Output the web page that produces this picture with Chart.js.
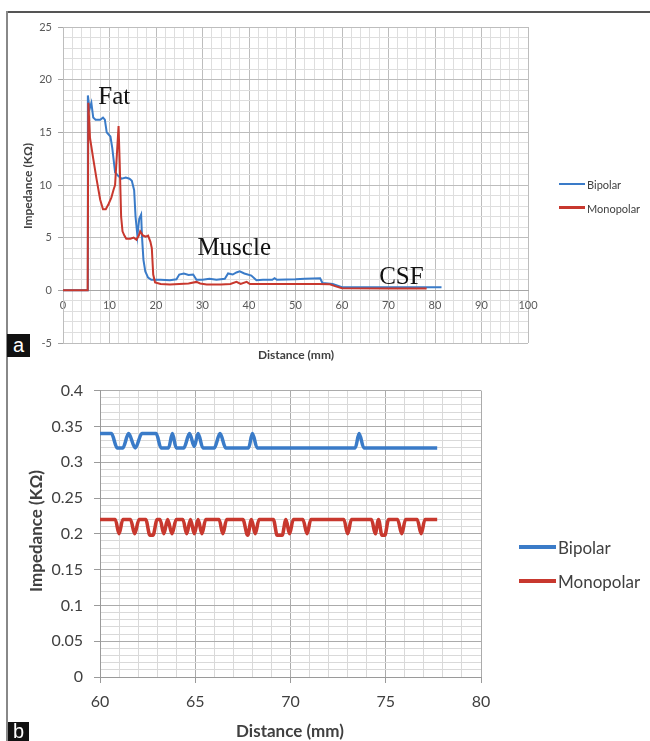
<!DOCTYPE html>
<html><head><meta charset="utf-8">
<script src="https://cdn.jsdelivr.net/npm/chart.js@4.4.0/dist/chart.umd.min.js"></script>
<style>
html,body{margin:0;padding:0;background:#fff;}
body{width:650px;height:741px;position:relative;overflow:hidden;font-family:Lato,sans-serif;}
canvas{position:absolute;left:0;}
#ca{top:0;} #cb{top:370px;}
.t{position:absolute;white-space:nowrap;color:#404040;font-weight:bold;line-height:1;}
.rot{transform:translate(-50%,-50%) rotate(-90deg);}
.ctr{transform:translate(-50%,-50%);}
.lg{position:absolute;white-space:nowrap;color:#404040;line-height:1;transform:translateY(-50%);}
.ln{position:absolute;}
.box{position:absolute;background:#111;color:#fff;font-family:"Liberation Sans",sans-serif;text-align:center;}
</style></head>
<body>
<div style="position:absolute;left:7px;top:11px;width:643px;height:1.5px;background:#555;"></div>
<div style="position:absolute;left:6px;top:11px;width:2px;height:730px;background:#888;"></div>
<canvas id="ca" width="650" height="370"></canvas>
<canvas id="cb" width="650" height="371"></canvas>

<div class="t rot" style="left:28px;top:186px;font-size:12px;">Impedance (KΩ)</div>
<div class="t ctr" style="left:296px;top:355px;font-size:12px;">Distance (mm)</div>
<div class="ln" style="left:559px;top:182.5px;width:26px;height:2.5px;background:#3a7bc8;"></div>
<div class="lg" style="left:587px;top:184px;font-size:11px;">Bipolar</div>
<div class="ln" style="left:559px;top:206px;width:26px;height:2.5px;background:#c8382e;"></div>
<div class="lg" style="left:587px;top:207.5px;font-size:11px;">Monopolar</div>
<div class="box" style="left:7px;top:334px;width:23px;height:23px;font-size:20px;line-height:22px;">a</div>

<div class="t rot" style="left:35px;top:531px;font-size:17px;">Impedance (KΩ)</div>
<div class="t ctr" style="left:290px;top:730px;font-size:17px;">Distance (mm)</div>
<div class="ln" style="left:519px;top:545px;width:37px;height:4px;background:#3a7bc8;"></div>
<div class="lg" style="left:558px;top:547px;font-size:17px;">Bipolar</div>
<div class="ln" style="left:519px;top:579px;width:37px;height:4px;background:#c8382e;"></div>
<div class="lg" style="left:558px;top:581px;font-size:17px;">Monopolar</div>
<div class="box" style="left:8px;top:722px;width:21px;height:19px;font-size:20px;line-height:19px;">b</div>

<script>
// ---------- Panel a data ----------
const distA_bipolar = [0,5.2,5.35,5.7,6.1,6.5,7,8,8.6,9,9.4,10.2,10.6,11.2,11.8,12.6,13.5,14.3,14.8,15.3,15.6,16.0,16.4,16.8,17.0,17.3,17.7,18.3,19,21,23,24.4,25,26,27,28,28.7,30,31.5,33,34.8,35.5,36.5,37.3,38,39,40.5,41.6,43,45,45.5,46,50,52,55.3,55.8,58,60,81.4];
const impA_bipolar  = [0,0,18.5,17.2,17.8,16.4,16.2,16.2,16.4,16.2,15.0,14.6,13.5,11.2,10.9,10.6,10.7,10.6,10.4,9.5,7.0,5.2,6.8,7.2,5.0,2.9,1.8,1.2,1.0,1.0,0.95,1.05,1.5,1.6,1.45,1.5,1.0,1.0,1.1,1.0,1.1,1.6,1.5,1.7,1.8,1.6,1.4,0.95,1.0,1.0,1.15,1.0,1.05,1.1,1.15,0.7,0.6,0.3,0.3];
const distA_mono = [0,5.3,5.45,5.8,6.5,7.2,8,8.6,9.2,9.8,10.4,10.9,11.2,11.6,11.95,12.2,12.5,12.8,13.2,13.6,14.5,15.2,15.8,16.3,16.6,17.2,17.8,18.3,18.8,19.1,19.4,19.8,21,23,25,27,28.7,29.5,30.9,34,36,37.3,38.2,39.5,40.2,45,50,55,57.4,58.5,60,70,78.2];
const impA_mono  = [0,0,17.8,14.5,12.5,10.6,8.6,7.7,7.7,8.2,8.8,9.6,10.0,13.0,15.6,12.0,7.0,5.6,5.2,4.9,4.9,5.0,4.8,5.2,5.6,5.2,5.1,5.2,4.6,4.0,1.5,0.75,0.6,0.55,0.6,0.65,0.8,0.65,0.55,0.55,0.6,0.8,0.6,0.8,0.6,0.6,0.6,0.6,0.57,0.4,0.2,0.18,0.18];
const annotationText = ['Fat','Muscle','CSF'];
const annotationDist = [7.6, 28.9, 68.0];
const annotationImp  = [17.7, 3.4, 0.63];

// ---------- Panel b data ----------
const distB_bipolar = [60,60.6,60.9,61.2,61.5,61.85,62.2,62.95,63.2,63.6,63.8,64.0,64.4,64.7,64.95,65.15,65.4,66.0,66.3,66.6,67.8,68.0,68.25,73.4,73.6,73.85,77.7];
const impB_bipolar  = [0.34,0.34,0.32,0.32,0.34,0.32,0.34,0.34,0.32,0.32,0.34,0.32,0.32,0.34,0.322,0.34,0.32,0.32,0.34,0.32,0.32,0.34,0.32,0.32,0.34,0.32,0.32];
const distB_mono = [60,60.8,61.0,61.2,61.6,61.82,62.05,62.4,62.62,62.78,63.0,63.15,63.35,63.55,63.78,64.0,64.35,64.55,64.75,64.95,65.15,65.35,65.55,66.25,66.45,66.65,67.5,67.75,67.95,68.15,68.35,69.1,69.3,69.56,69.76,69.95,70.15,70.65,70.87,71.07,72.8,73.0,73.2,74.25,74.45,74.62,74.8,74.95,75.15,75.62,75.84,76.04,76.65,76.86,77.06,77.7];
const impB_mono  = [0.22,0.22,0.20,0.22,0.22,0.20,0.22,0.22,0.198,0.198,0.22,0.22,0.20,0.22,0.20,0.22,0.22,0.20,0.22,0.20,0.22,0.20,0.22,0.22,0.20,0.22,0.22,0.198,0.22,0.20,0.22,0.22,0.198,0.198,0.22,0.20,0.22,0.22,0.20,0.22,0.22,0.20,0.22,0.22,0.20,0.22,0.198,0.198,0.22,0.22,0.20,0.22,0.22,0.20,0.22,0.22];

const BLUE = '#3a7bc8', RED = '#c8382e';
const pts = (xs, ys) => xs.map((x, i) => ({x, y: ys[i]}));

const annotPlugin = {
  id: 'annot',
  afterDatasetsDraw(chart) {
    const ctx = chart.ctx, xs = chart.scales.x, ys = chart.scales.y;
    ctx.save();
    ctx.font = '25px "Liberation Serif", serif';
    ctx.fillStyle = '#111';
    ctx.textAlign = 'left';
    ctx.textBaseline = 'alphabetic';
    annotationText.forEach((t, i) => {
      ctx.fillText(t, xs.getPixelForValue(annotationDist[i]), ys.getPixelForValue(annotationImp[i]));
    });
    ctx.restore();
  }
};

new Chart(document.getElementById('ca'), {
  type: 'line',
  data: { datasets: [
    { label: 'Bipolar', data: pts(distA_bipolar, impA_bipolar), borderColor: BLUE, borderWidth: 2, pointRadius: 0, tension: 0, order: 2 },
    { label: 'Monopolar', data: pts(distA_mono, impA_mono), borderColor: RED, borderWidth: 2, pointRadius: 0, tension: 0, order: 1 }
  ]},
  options: {
    responsive: false, animation: false, devicePixelRatio: 1,
    layout: { padding: { left: 0, right: 122, top: 27, bottom: 27 } },
    plugins: { legend: { display: false }, tooltip: { enabled: false } },
    scales: {
      x: {
        type: 'linear', min: 0, max: 100, position: { y: 0 },
        afterFit: s => { s.height = 0; },
        ticks: { stepSize: 2, autoSkip: false, maxRotation: 0, padding: 5, color: '#595959',
          font: { family: 'Lato', size: 11 },
          callback: v => (Math.round(v) % 10 === 0 ? String(v) : '') },
        grid: { color: c => (c.tick && Math.round(c.tick.value) % 10 === 0 ? '#bdbdbd' : '#dedede'),
          lineWidth: 1, tickLength: 4, tickColor: 'rgba(0,0,0,0)' },
        border: { color: '#a6a6a6' }
      },
      y: {
        type: 'linear', min: -5, max: 25, position: 'left',
        afterFit: s => { s.width = 63; },
        ticks: { stepSize: 1, autoSkip: false, padding: 6, color: '#595959',
          font: { family: 'Lato', size: 11 },
          callback: v => (Math.round(v) % 5 === 0 ? String(v) : '') },
        grid: { color: c => (c.tick && Math.round(c.tick.value) % 5 === 0 ? '#bdbdbd' : '#dedede'),
          lineWidth: 1, tickLength: 5,
          tickColor: c => (c.tick && Math.round(c.tick.value) % 5 === 0 ? '#a6a6a6' : 'rgba(0,0,0,0)') },
        border: { color: '#bdbdbd' }
      }
    }
  },
  plugins: [annotPlugin]
});

new Chart(document.getElementById('cb'), {
  type: 'line',
  data: { datasets: [
    { label: 'Bipolar', data: pts(distB_bipolar, impB_bipolar), borderColor: BLUE, borderWidth: 3.5, pointRadius: 0, cubicInterpolationMode: 'monotone' },
    { label: 'Monopolar', data: pts(distB_mono, impB_mono), borderColor: RED, borderWidth: 3.5, pointRadius: 0, cubicInterpolationMode: 'monotone' }
  ]},
  options: {
    responsive: false, animation: false, devicePixelRatio: 1,
    layout: { padding: { left: 0, right: 169, top: 14, bottom: 0 } },
    plugins: { legend: { display: false }, tooltip: { enabled: false } },
    scales: {
      x: {
        type: 'linear', min: 60, max: 80, position: 'bottom',
        afterFit: s => { s.height = 64; },
        ticks: { stepSize: 1, autoSkip: false, maxRotation: 0, padding: 9, color: '#404040',
          font: { family: 'Lato', size: 16 },
          callback: v => (Math.round(v) % 5 === 0 ? String(v) : '') },
        grid: { color: c => (c.tick && Math.round(c.tick.value) % 5 === 0 ? '#ababab' : '#d9d9d9'),
          lineWidth: 1, tickLength: 6,
          tickColor: c => (c.tick && Math.round(c.tick.value) % 5 === 0 ? '#9a9a9a' : 'rgba(0,0,0,0)') },
        border: { color: '#9a9a9a' }
      },
      y: {
        type: 'linear', min: 0, max: 0.4, position: 'left',
        afterFit: s => { s.width = 100; },
        ticks: { stepSize: 0.01, autoSkip: false, padding: 11, color: '#404040',
          font: { family: 'Lato', size: 16 },
          callback: v => (Math.round(v * 100) % 5 === 0 ? String(+v.toFixed(2)) : '') },
        grid: { color: c => (c.tick && Math.round(c.tick.value * 100) % 5 === 0 ? '#ababab' : '#d9d9d9'),
          lineWidth: 1, tickLength: 6,
          tickColor: c => (c.tick && Math.round(c.tick.value * 100) % 5 === 0 ? '#9a9a9a' : 'rgba(0,0,0,0)') },
        border: { color: '#9a9a9a' }
      }
    }
  }
});
</script>
</body></html>
